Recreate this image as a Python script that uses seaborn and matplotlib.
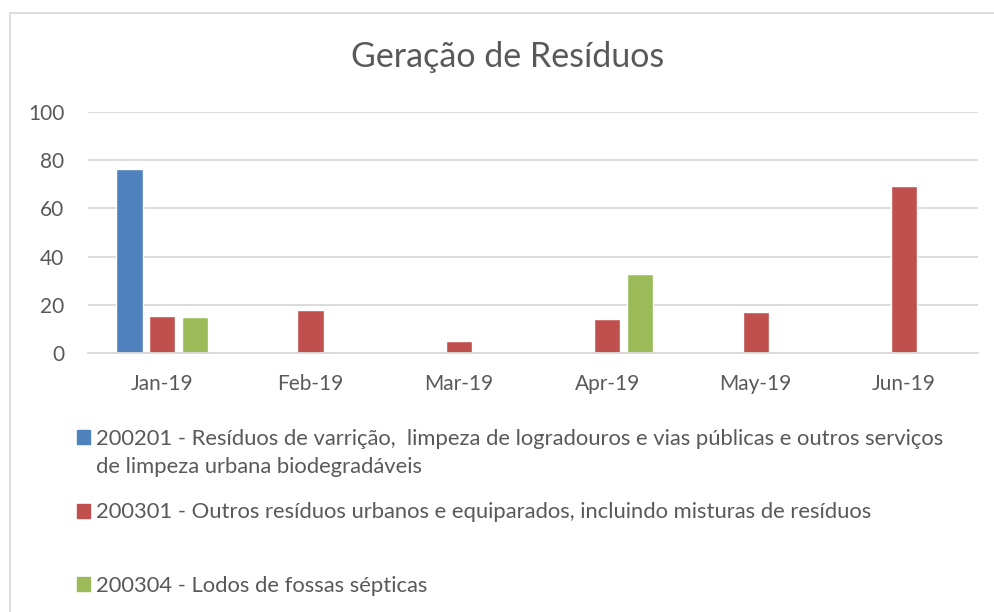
import pandas as pd
import numpy as np
import matplotlib.pyplot as plt
import seaborn as sns
from matplotlib.patches import Rectangle

# Data
months = ['Jan-19', 'Feb-19', 'Mar-19', 'Apr-19', 'May-19', 'Jun-19']
s200201 = [76.5, np.nan, np.nan, np.nan, np.nan, np.nan]
s200301 = [15.5, 18, 5, 14, 17, 69.5]
s200304 = [15, np.nan, np.nan, 33, np.nan, np.nan]
labels = [
    '200201 - Resíduos de varrição,  limpeza de logradouros e vias públicas e outros serviços',
    '200301 - Outros resíduos urbanos e equiparados, incluindo misturas de resíduos',
    '200304 - Lodos de fossas sépticas',
]
label1_cont = 'de limpeza urbana biodegradáveis'
colors = ['#4F81BD', '#C0504D', '#9BBB59']

df = pd.DataFrame({'Mes': months, labels[0]: s200201, labels[1]: s200301, labels[2]: s200304})
df = df.melt(id_vars='Mes', var_name='Codigo', value_name='Valor')

sns.set_style('white')
plt.rcParams['font.family'] = ['Lato', 'DejaVu Sans']
txt = '#595959'

fig = plt.figure(figsize=(9.94, 6.12), dpi=100)
ax = fig.add_axes([0.0885, 0.423, 0.8955, 0.394])

sns.barplot(data=df, x='Mes', y='Valor', hue='Codigo', order=months, hue_order=labels,
            palette=colors, width=0.66, gap=0.2, saturation=1, ax=ax, legend=False)

ax.set_ylim(0, 100)
ax.set_xlim(-0.5, 5.5)
ax.set_yticks(range(0, 101, 20))
ax.yaxis.grid(True, color='#D9D9D9', linewidth=1.3)
ax.set_axisbelow(True)
for s in ['top', 'right', 'left']:
    ax.spines[s].set_visible(False)
ax.spines['bottom'].set_color('#D9D9D9')
ax.spines['bottom'].set_linewidth(1.3)
ax.set_xlabel('')
ax.set_ylabel('')
ax.tick_params(axis='both', length=0, labelsize=15, labelcolor=txt)
ax.tick_params(axis='y', pad=17)
ax.tick_params(axis='x', pad=15)
ax.set_xticks(np.arange(-0.5, 6, 1), minor=True)
ax.tick_params(axis='x', which='minor', length=6, color='#D9D9D9', width=1.3)

fig.text(0.511, 0.907, 'Geração de Resíduos', ha='center', va='center', fontsize=24.5, color=txt)

# legend entries, one per series
handles = [Rectangle((0, 0), 1, 1, color=c) for c in colors]
ypos = [0.299, 0.179, 0.059]
legs = []
for h, l, y in zip(handles, labels, ypos):
    leg = fig.legend([h], [l], loc='upper left', bbox_to_anchor=(0.077, y), frameon=False,
                     fontsize=15.8, labelcolor=txt, handlelength=0.6, handleheight=0.6,
                     handletextpad=0.3, borderpad=0, borderaxespad=0)
    legs.append(leg)

# second line of the first legend label, aligned under the first
fig.canvas.draw()
bb = legs[0].get_texts()[0].get_window_extent().transformed(fig.transFigure.inverted())
fig.text(bb.x0, bb.y0 - 0.046, label1_cont, ha='left', va='bottom', fontsize=15.8, color=txt)

fig.patches.append(Rectangle((10 / 994, -0.01), 1.0, 1 - 12.5 / 612 + 0.01,
                             transform=fig.transFigure, fill=False, edgecolor='#D9D9D9', linewidth=1.3))

fig.savefig('out.png', dpi=100)
